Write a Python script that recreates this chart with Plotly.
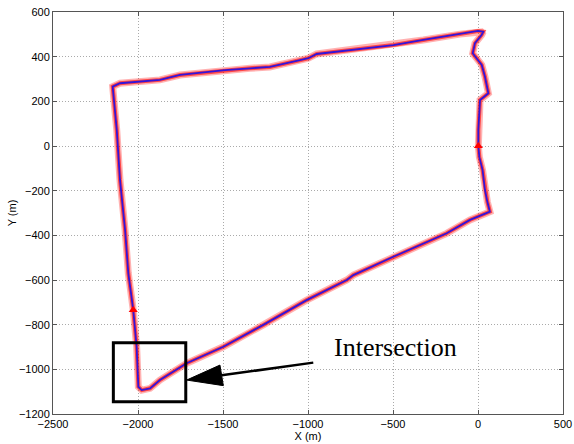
import plotly.graph_objects as go

# Trajectory (metres), starting at the start marker and going down the right side
path_x = [2, 8, 27, 41, 55, 70, -47, -184, -498, -733, -772, -1008, -1263, -1498, -1714,
          -1871, -1929, -1978, -1998, -2008, -2028, -2057, -2076, -2106, -2125, -2145, -2149,
          -2106, -1871, -1753, -1488, -1341, -1224, -1047, -998, -949, -753, -498, -322,
          -106, 0, 31, 21, -18, -31, 22, 41, 61, 12, 2, 2]
path_y = [0, -50, -108, -197, -250, -294, -331, -391, -496, -578, -600, -690, -801, -899, -973,
          -1048, -1085, -1093, -1078, -899, -734, -570, -376, -152, 72, 251, 266,
          281, 296, 318, 340, 348, 354, 385, 393, 412, 430, 452, 475,
          501, 515, 512, 497, 460, 415, 363, 310, 236, 206, 72, 0]

marker_x = [2, -2028]
marker_y = [0, -734]

x_ticks = [-2500, -2000, -1500, -1000, -500, 0, 500]
y_ticks = [-1200, -1000, -800, -600, -400, -200, 0, 200, 400, 600]

# Annotation geometry (data units)
box = dict(x0=-2145, x1=-1719, y0=-1145, y1=-881)
arrow_start = (-969, -970)
arrow_base = (-1508, -1027)
arrow_tri = [(-1714, -1048), (-1518, -981), (-1498, -1073)]
label_pos = (-861, -904)

fig = go.Figure()
fig.add_trace(go.Scatter(x=path_x, y=path_y, mode="lines",
                         line=dict(color="rgba(255,0,0,0.3)", width=7),
                         hoverinfo="skip", showlegend=False))
fig.add_trace(go.Scatter(x=path_x, y=path_y, mode="lines",
                         line=dict(color="rgba(255,0,0,0.6)", width=4),
                         hoverinfo="skip", showlegend=False))
fig.add_trace(go.Scatter(x=path_x, y=path_y, mode="lines",
                         line=dict(color="#3414d8", width=1.8),
                         showlegend=False))
fig.add_trace(go.Scatter(x=marker_x, y=marker_y, mode="markers",
                         marker=dict(symbol="triangle-up", color="red", size=8),
                         showlegend=False))

fig.add_shape(type="rect", xref="x", yref="y", **box,
              line=dict(color="black", width=3), fillcolor="rgba(0,0,0,0)")
fig.add_shape(type="line", xref="x", yref="y",
              x0=arrow_start[0], y0=arrow_start[1], x1=arrow_base[0], y1=arrow_base[1],
              line=dict(color="black", width=2.5))
tri = "M {} {} L {} {} L {} {} Z".format(*[v for p in arrow_tri for v in p])
fig.add_shape(type="path", xref="x", yref="y", path=tri,
              fillcolor="black", line=dict(color="black", width=1))
fig.add_annotation(x=label_pos[0], y=label_pos[1], text="Intersection",
                   xanchor="left", yanchor="middle", showarrow=False,
                   font=dict(family="Liberation Serif, Times New Roman, serif", size=26, color="black"))

axis_common = dict(showline=True, linecolor="#555", linewidth=1, mirror="ticks",
                   ticks="inside", ticklen=4, tickcolor="#555",
                   showgrid=True, gridcolor="#aaaaaa", griddash="1px,2px", gridwidth=1,
                   zeroline=False, automargin=False,
                   tickfont=dict(family="Liberation Sans, Arial, sans-serif", size=11, color="black"))

fig.update_xaxes(range=[-2500, 500], tickvals=x_ticks,
                 title=dict(text="X (m)", standoff=0,
                            font=dict(family="Liberation Sans, Arial, sans-serif", size=11, color="black")),
                 **axis_common)
fig.update_yaxes(range=[-1200, 600], tickvals=y_ticks,
                 title=dict(text="Y (m)", standoff=0,
                            font=dict(family="Liberation Sans, Arial, sans-serif", size=11, color="black")),
                 **axis_common)

fig.update_layout(width=574, height=444, margin=dict(l=53, r=11, t=12, b=30),
                  paper_bgcolor="white", plot_bgcolor="white", showlegend=False)

fig.write_html("out.html")
